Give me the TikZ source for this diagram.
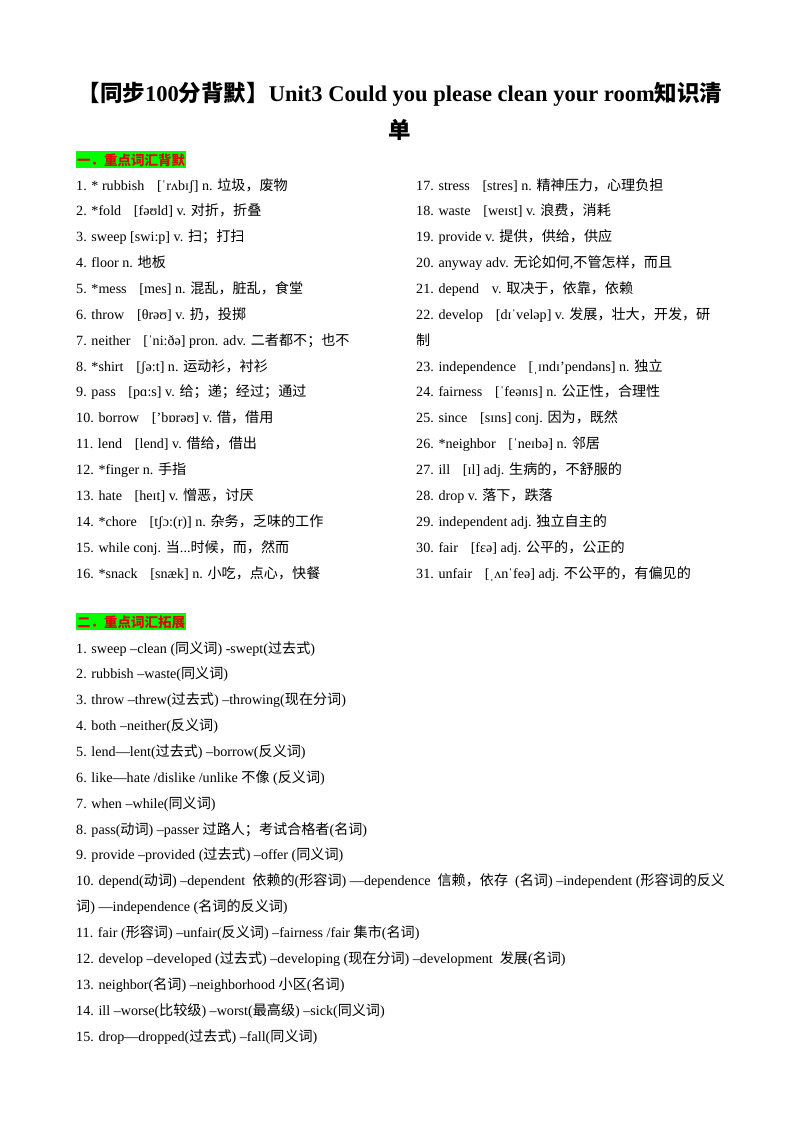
\documentclass[tikz,border=0pt]{standalone}
\usepackage{fontspec}
\setmainfont{Liberation Serif}
\newfontfamily\latin{Liberation Serif}
\newfontfamily\cjk{Noto Sans CJK SC}
\XeTeXinterchartokenstate=1
\newXeTeXintercharclass\cjkclass
\newcount\cc
\cc="4E00 \loop\XeTeXcharclass\cc=\cjkclass \advance\cc by 1 \ifnum\cc<"A000 \repeat
\cc="3000 \loop\XeTeXcharclass\cc=\cjkclass \advance\cc by 1 \ifnum\cc<"3040 \repeat
\cc="FF00 \loop\XeTeXcharclass\cc=\cjkclass \advance\cc by 1 \ifnum\cc<"FFF0 \repeat
\XeTeXinterchartoks 0 \cjkclass = {\cjk}
\XeTeXinterchartoks 4095 \cjkclass = {\cjk}
\XeTeXinterchartoks \cjkclass 0 = {\latin}
\XeTeXinterchartoks \cjkclass 4095 = {\latin}
\definecolor{hgreen}{RGB}{0,255,0}
\definecolor{hred}{RGB}{230,0,0}
\newcommand{\gp}{\hspace{0.9em}}
\tikzset{ln/.style={anchor=base west,inner sep=0pt,font=\fontsize{14.1}{16}\selectfont},
  head/.style={anchor=base west,inner xsep=1pt,inner ysep=2pt,fill=hgreen,text=hred,font=\fontsize{13.5}{15}\selectfont\bfseries},
  ttl/.style={anchor=base,inner sep=0pt,font=\fontsize{22.5}{26}\selectfont\bfseries}}
\begin{document}
\begin{tikzpicture}[x=1pt,y=-1pt]
\useasboundingbox[fill=white] (0,0) rectangle (800,1132);
\node[ttl] (t1) at (400,101) {【同步100分背默】Unit3 Could you please clean your room知识清};
\node[ttl] (t2) at (400,138) {单};
\node[head] (h1) at (76,165) {一．重点词汇背默};
\def\L{76}\def\R{416}\def\d{25.87}
\foreach \i/\t in {0/{1. * rubbish\gp[ˈrʌbɪʃ] n. 垃圾，废物},
1/{2. *fold\gp[fəʊld] v. 对折，折叠},
2/{3. sweep [swi:p] v. 扫；打扫},
3/{4. floor n. 地板},
4/{5. *mess\gp[mes] n. 混乱，脏乱，食堂},
5/{6. throw\gp[θrəʊ] v. 扔，投掷},
6/{7. neither\gp[ˈni:ðə] pron. adv. 二者都不；也不},
7/{8. *shirt\gp[ʃə:t] n. 运动衫，衬衫},
8/{9. pass\gp[pɑ:s] v. 给；递；经过；通过},
9/{10. borrow\gp['bɒrəʊ] v. 借，借用},
10/{11. lend\gp[lend] v. 借给，借出},
11/{12. *finger n. 手指},
12/{13. hate\gp[heɪt] v. 憎恶，讨厌},
13/{14. *chore\gp[tʃɔ:(r)] n. 杂务，乏味的工作},
14/{15. while conj. 当...时候，而，然而},
15/{16. *snack\gp[snæk] n. 小吃，点心，快餐}}
  \node[ln] (a\i) at (\L,190+\i*\d) {\t};
\foreach \i/\t in {0/{17. stress\gp[stres] n. 精神压力，心理负担},
1/{18. waste\gp[weɪst] v. 浪费，消耗},
2/{19. provide v. 提供，供给，供应},
3/{20. anyway adv. 无论如何,不管怎样，而且},
4/{21. depend\gp v. 取决于，依靠，依赖},
5/{22. develop\gp[dɪˈveləp] v. 发展，壮大，开发，研},
6/{制},
7/{23. independence\gp[ˌɪndɪ'pendəns] n. 独立},
8/{24. fairness\gp[ˈfeənɪs] n. 公正性，合理性},
9/{25. since\gp[sɪns] conj. 因为，既然},
10/{26. *neighbor\gp[ˈneɪbə] n. 邻居},
11/{27. ill\gp[ɪl] adj. 生病的，不舒服的},
12/{28. drop v. 落下，跌落},
13/{29. independent adj. 独立自主的},
14/{30. fair\gp[fɛə] adj. 公平的，公正的},
15/{31. unfair\gp[ˌʌnˈfeə] adj. 不公平的，有偏见的}}
  \node[ln] (b\i) at (\R,190+\i*\d) {\t};
\node[head] (h2) at (76,627) {二．重点词汇拓展};
\foreach \i/\t in {0/{1. sweep –clean (同义词) -swept(过去式)},
1/{2. rubbish –waste(同义词)},
2/{3. throw –threw(过去式) –throwing(现在分词)},
3/{4. both –neither(反义词)},
4/{5. lend—lent(过去式) –borrow(反义词)},
5/{6. like—hate /dislike /unlike 不像 (反义词)},
6/{7. when –while(同义词)},
7/{8. pass(动词) –passer 过路人；考试合格者(名词)},
8/{9. provide –provided (过去式) –offer (同义词)},
9/{10. depend(动词) –dependent\enskip 依赖的(形容词) —dependence\enskip 信赖，依存\enskip (名词) –independent (形容词的反义},
10/{词) —independence (名词的反义词)},
11/{11. fair (形容词) –unfair(反义词) –fairness /fair 集市(名词)},
12/{12. develop –developed (过去式) –developing (现在分词) –development\enskip 发展(名词)},
13/{13. neighbor(名词) –neighborhood 小区(名词)},
14/{14. ill –worse(比较级) –worst(最高级) –sick(同义词)},
15/{15. drop—dropped(过去式) –fall(同义词)}}
  \node[ln] (c\i) at (\L,653+\i*\d) {\t};
\end{tikzpicture}
\end{document}
